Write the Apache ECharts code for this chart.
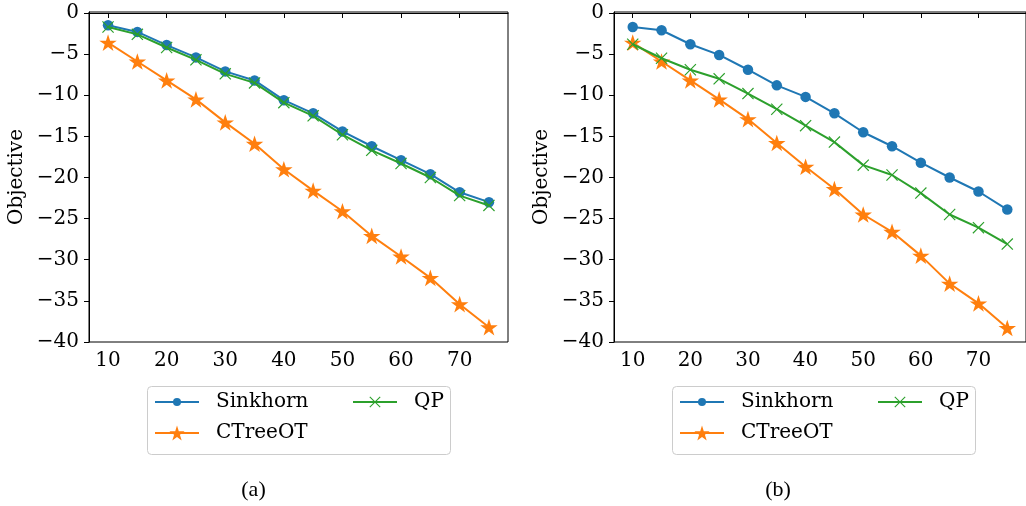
<!DOCTYPE html>
<html>
<head>
<meta charset="utf-8">
<script src="https://cdn.jsdelivr.net/npm/echarts@6/dist/echarts.min.js"></script>
<style>
html,body{margin:0;padding:0;background:#fff;}
#c{width:1026px;height:506px;}
</style>
</head>
<body>
<div id="c"></div>
<script>
// ---- data ----
const xValues = [10, 15, 20, 25, 30, 35, 40, 45, 50, 55, 60, 65, 70, 75];
const sinkhornA = [-1.5, -2.3, -3.9, -5.4, -7.1, -8.2, -10.6, -12.2, -14.4, -16.2, -17.9, -19.6, -21.8, -23.0];
const ctreeotA  = [-3.6, -5.9, -8.2, -10.5, -13.3, -15.9, -19.0, -21.6, -24.1, -27.1, -29.6, -32.2, -35.4, -38.2];
const qpA       = [-1.7, -2.6, -4.2, -5.7, -7.4, -8.5, -10.9, -12.5, -14.8, -16.7, -18.3, -20.0, -22.2, -23.4];
const sinkhornB = [-1.7, -2.1, -3.8, -5.1, -6.9, -8.8, -10.2, -12.2, -14.5, -16.2, -18.2, -20.0, -21.7, -23.9];
const ctreeotB  = [-3.6, -5.9, -8.2, -10.5, -12.9, -15.8, -18.7, -21.4, -24.5, -26.6, -29.5, -32.9, -35.3, -38.3];
const qpB       = [-3.8, -5.5, -6.9, -8.0, -9.8, -11.7, -13.7, -15.7, -18.5, -19.7, -21.9, -24.5, -26.1, -28.1];
const xTicks = [10, 20, 30, 40, 50, 60, 70];
const yTicks = [-40, -35, -30, -25, -20, -15, -10, -5, 0];
const seriesNames = ['Sinkhorn', 'CTreeOT', 'QP'];
const captions = ['(a)', '(b)'];

// ---- styles ----
const FONT = 'DejaVu Serif';
const C_BLUE = '#1f77b4', C_ORANGE = '#ff7f0e', C_GREEN = '#2ca02c';

function starPath() {
  const pts = [];
  for (let i = 0; i < 10; i++) {
    const r = (i % 2) ? 0.381966 * 50 : 50;
    const a = Math.PI / 2 + i * Math.PI / 5;
    pts.push((50 + r * Math.cos(a)).toFixed(2) + ',' + (50 - r * Math.sin(a)).toFixed(2));
  }
  return 'path://M' + pts.join('L') + 'Z';
}
const STAR = starPath();
const XMARK = 'path://M0,7L7,0L50,43L93,0L100,7L57,50L100,93L93,100L50,57L7,100L0,93L43,50Z';

const fmt = v => (v < 0 ? '\u2212' : '') + Math.abs(v);

function pairs(vals) { return xValues.map((x, i) => [x, vals[i]]); }

const gridLefts = [89, 614];
const grids = gridLefts.map(l => ({
  left: l, top: 12, width: 419, height: 330,
  show: true, borderColor: '#000', borderWidth: 1, backgroundColor: 'transparent'
}));

const xAxes = gridLefts.map((_, i) => ({
  type: 'value', gridIndex: i, min: 6.75, max: 78.25,
  splitLine: { show: false },
  axisLine: { lineStyle: { color: '#000', width: 1 } },
  axisTick: { show: true, length: 5, lineStyle: { color: '#000' }, customValues: xTicks },
  axisLabel: { customValues: xTicks, color: '#000', fontFamily: FONT, fontSize: 20, margin: 9, formatter: fmt }
}));
const yAxes = gridLefts.map((_, i) => ({
  type: 'value', gridIndex: i, min: -40, max: 0.12,
  name: 'Objective', nameLocation: 'middle', nameGap: 62,
  nameTextStyle: { color: '#000', fontFamily: FONT, fontSize: 20 },
  splitLine: { show: false },
  axisLine: { show: true, lineStyle: { color: '#000', width: 1 } },
  axisTick: { show: true, length: 5, lineStyle: { color: '#000' }, customValues: yTicks },
  axisLabel: { customValues: yTicks, color: '#000', fontFamily: FONT, fontSize: 20, margin: 10, formatter: fmt }
}));

function mkSeries(name, vals, gi, color, symbol, size, z) {
  return {
    name: name, type: 'line', xAxisIndex: gi, yAxisIndex: gi,
    data: pairs(vals), symbol: symbol, symbolSize: size, symbolKeepAspect: true,
    showAllSymbol: true, z: z,
    lineStyle: { color: color, width: 2 },
    itemStyle: { color: color },
    emphasis: { disabled: true }, animation: false
  };
}
const series = [
  mkSeries('Sinkhorn', sinkhornA, 0, C_BLUE, 'circle', 10.5, 2),
  mkSeries('CTreeOT', ctreeotA, 0, C_ORANGE, STAR, 17.5, 3),
  mkSeries('QP', qpA, 0, C_GREEN, XMARK, 12, 4),
  mkSeries('Sinkhorn', sinkhornB, 1, C_BLUE, 'circle', 10.5, 2),
  mkSeries('CTreeOT', ctreeotB, 1, C_ORANGE, STAR, 17.5, 3),
  mkSeries('QP', qpB, 1, C_GREEN, XMARK, 12, 4)
];

const legendOffsets = [0, 525];
const legendItems = [
  { name: seriesNames[0], left: 154, top: 392, h: 10 },
  { name: seriesNames[1], left: 154, top: 423, h: 19 },
  { name: seriesNames[2], left: 352, top: 392, h: 14 }
];
const legends = [];
legendOffsets.forEach(off => {
  legendItems.forEach(it => {
    legends.push({
      data: [it.name], left: off + it.left, top: it.top, padding: 0,
      itemWidth: 44, itemHeight: it.h, selectedMode: false,
      textStyle: { color: '#000', fontFamily: FONT, fontSize: 20, padding: [0, 0, 0, 12] }
    });
  });
});

const graphic = [];
legendOffsets.forEach(off => {
  graphic.push({
    type: 'rect', left: 147 + off, top: 386, z: -1,
    shape: { width: 303, height: 68, r: 4 },
    style: { fill: '#fff', stroke: '#cccccc', lineWidth: 1 }
  });
});
const captionX = [253.5, 778];
captionX.forEach((cx, i) => {
  graphic.push({
    type: 'text', x: cx, y: 490,
    style: { text: captions[i], fill: '#000', font: '22px "Liberation Serif"', align: 'center', verticalAlign: 'middle' }
  });
});

const chart = echarts.init(document.getElementById('c'), null, { renderer: 'canvas' });
chart.setOption({
  animation: false,
  backgroundColor: '#fff',
  grid: grids, xAxis: xAxes, yAxis: yAxes,
  legend: legends,
  graphic: graphic,
  series: series
});
</script>
</body>
</html>
